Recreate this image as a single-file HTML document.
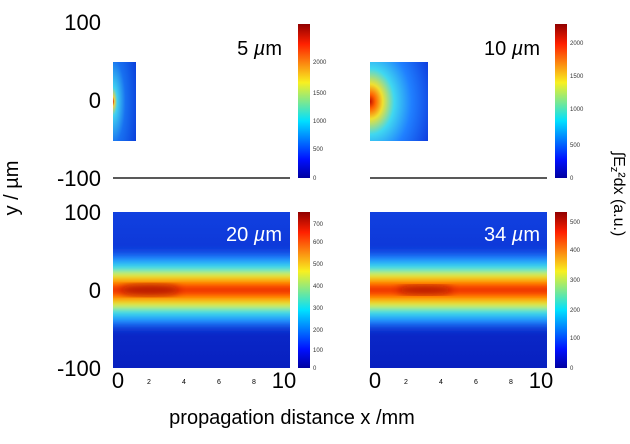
<!DOCTYPE html>
<html><head><meta charset="utf-8"><style>
body{margin:0;background:#fff;}
svg{display:block;font-family:"Liberation Sans","DejaVu Sans",sans-serif;}
</style></head><body>
<svg width="630" height="444" viewBox="0 0 630 444" xmlns="http://www.w3.org/2000/svg">
<defs>
<linearGradient id="jet" x1="0" y1="1" x2="0" y2="0">
<stop offset="0" stop-color="#0000a0"/><stop offset="0.12" stop-color="#0010ff"/>
<stop offset="0.37" stop-color="#00e0ff"/><stop offset="0.62" stop-color="#f8f020"/>
<stop offset="0.87" stop-color="#ff2000"/><stop offset="1" stop-color="#900000"/>
</linearGradient>
<linearGradient id="bg" x1="0" y1="0" x2="0" y2="1">
<stop offset="0" stop-color="#1040e0"/><stop offset="1" stop-color="#0820c0"/>
</linearGradient>
<linearGradient id="beam" x1="0" y1="0" x2="0" y2="1">
<stop offset="0" stop-color="#1848e8" stop-opacity="0"/>
<stop offset="0.15" stop-color="#2090ff"/>
<stop offset="0.25" stop-color="#40e0e8"/>
<stop offset="0.33" stop-color="#e0f040"/>
<stop offset="0.40" stop-color="#ffa000"/>
<stop offset="0.45" stop-color="#ff5000"/>
<stop offset="0.5" stop-color="#e83000"/>
<stop offset="0.55" stop-color="#ff5000"/>
<stop offset="0.60" stop-color="#ffa000"/>
<stop offset="0.67" stop-color="#e0f040"/>
<stop offset="0.75" stop-color="#40e0e8"/>
<stop offset="0.85" stop-color="#2090ff"/>
<stop offset="1" stop-color="#1848e8" stop-opacity="0"/>
</linearGradient>
<filter id="b3"><feGaussianBlur stdDeviation="4"/></filter>
<filter id="b2"><feGaussianBlur stdDeviation="2"/></filter>
<clipPath id="cL"><rect x="113" y="212" width="177" height="156"/></clipPath>
<clipPath id="cR"><rect x="370" y="212" width="177" height="156"/></clipPath>
<radialGradient id="src" cx="0" cy="0.5" r="1.1">
<stop offset="0" stop-color="#c01000"/><stop offset="0.08" stop-color="#ff6000"/>
<stop offset="0.2" stop-color="#f0e030"/><stop offset="0.38" stop-color="#40d8f0"/>
<stop offset="0.65" stop-color="#2080ff"/><stop offset="1" stop-color="#1040e0"/>
</radialGradient>
<radialGradient id="src5" cx="0" cy="0.5" r="1.2">
<stop offset="0" stop-color="#d02000"/><stop offset="0.05" stop-color="#f0d040"/>
<stop offset="0.15" stop-color="#40d0f0"/><stop offset="0.45" stop-color="#1870f0"/>
<stop offset="1" stop-color="#0838d8"/>
</radialGradient>
</defs>

<g font-size="22" fill="#000" text-anchor="end">
<text x="101" y="30">100</text><text x="101" y="108">0</text><text x="101" y="186">-100</text>
<text x="101" y="220">100</text><text x="101" y="298">0</text><text x="101" y="376">-100</text>
</g>
<text transform="translate(18,188) rotate(-90)" font-size="20" text-anchor="middle">y / µm</text>
<text transform="translate(614,194) rotate(90)" font-size="16" text-anchor="middle">∫E<tspan font-size="11" dy="3">z</tspan><tspan dy="-3">²dx  (a.u.)</tspan></text>

<rect x="113" y="62" width="23" height="79" fill="url(#src5)"/>
<line x1="113" y1="178" x2="290" y2="178" stroke="#222" stroke-width="1.5"/>
<text x="282" y="55" font-size="20" text-anchor="end">5 <tspan font-style="italic">µ</tspan>m</text>
<rect x="298" y="24" width="12" height="154" fill="url(#jet)"/>
<g font-size="6" fill="#333"><text x="313" y="64">2000</text><text x="313" y="95">1500</text><text x="313" y="123">1000</text><text x="313" y="151">500</text><text x="313" y="180">0</text></g>

<rect x="370" y="62" width="58" height="79" fill="url(#src)"/>
<line x1="370" y1="178" x2="547" y2="178" stroke="#222" stroke-width="1.5"/>
<text x="540" y="55" font-size="20" text-anchor="end">10 <tspan font-style="italic">µ</tspan>m</text>
<rect x="555" y="24" width="12" height="154" fill="url(#jet)"/>
<g font-size="6" fill="#333"><text x="570" y="45">2000</text><text x="570" y="78">1500</text><text x="570" y="111">1000</text><text x="570" y="147">500</text><text x="570" y="180">0</text></g>

<rect x="113" y="212" width="177" height="156" fill="url(#bg)"/>
<g clip-path="url(#cL)">
<rect x="100" y="246" width="200" height="88" fill="url(#beam)" filter="url(#b2)"/>
<ellipse cx="150" cy="290" rx="30" ry="6" fill="#a00c00" filter="url(#b3)" opacity="0.7"/>
</g>
<text x="282" y="241" font-size="20" fill="#fff" text-anchor="end">20 <tspan font-style="italic">µ</tspan>m</text>
<rect x="298" y="212" width="12" height="156" fill="url(#jet)"/>
<g font-size="6" fill="#333"><text x="313" y="226">700</text><text x="313" y="244">600</text><text x="313" y="266">500</text><text x="313" y="288">400</text><text x="313" y="310">300</text><text x="313" y="332">200</text><text x="313" y="352">100</text><text x="313" y="370">0</text></g>

<rect x="370" y="212" width="177" height="156" fill="url(#bg)"/>
<g clip-path="url(#cR)">
<rect x="357" y="246" width="200" height="88" fill="url(#beam)" filter="url(#b2)"/>
<ellipse cx="425" cy="290" rx="28" ry="5" fill="#a00c00" filter="url(#b3)" opacity="0.7"/>
</g>
<text x="540" y="241" font-size="20" fill="#fff" text-anchor="end">34 <tspan font-style="italic">µ</tspan>m</text>
<rect x="555" y="212" width="12" height="156" fill="url(#jet)"/>
<g font-size="6" fill="#333"><text x="570" y="224">500</text><text x="570" y="252">400</text><text x="570" y="282">300</text><text x="570" y="312">200</text><text x="570" y="340">100</text><text x="570" y="370">0</text></g>

<g font-size="22" text-anchor="middle">
<text x="118" y="388">0</text><text x="284" y="388">10</text>
<text x="375" y="388">0</text><text x="541" y="388">10</text>
</g>
<g font-size="7" text-anchor="middle">
<text x="149" y="384">2</text><text x="184" y="384">4</text><text x="219" y="384">6</text><text x="254" y="384">8</text>
<text x="406" y="384">2</text><text x="441" y="384">4</text><text x="476" y="384">6</text><text x="511" y="384">8</text>
</g>
<text x="292" y="424" font-size="20" text-anchor="middle">propagation distance x /mm</text>
</svg>
</body></html>
